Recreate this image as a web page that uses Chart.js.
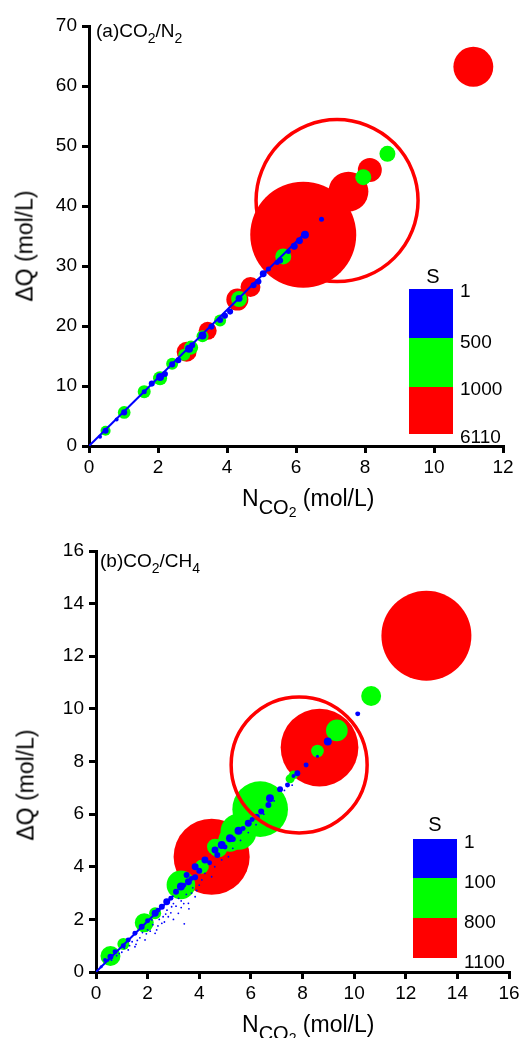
<!DOCTYPE html>
<html><head><meta charset="utf-8">
<script src="https://cdn.jsdelivr.net/npm/chart.js@4/dist/chart.umd.min.js"></script>
<style>
html,body{margin:0;padding:0;background:#fff;}
body{width:527px;height:1038px;position:relative;overflow:hidden;font-family:"Liberation Sans",Arial,sans-serif;color:#000;}
canvas{position:absolute;left:0;}
.t{position:absolute;white-space:nowrap;line-height:1;}
.s1{font-size:14px;position:relative;top:6px;}
.xs{font-size:20px;position:relative;top:8px;}
.xs2{font-size:14px;position:relative;top:3px;}
.yt{transform:translate(-50%,-50%) rotate(-90deg);}
.bar{position:absolute;}
</style></head>
<body>
<canvas id="ca" width="527" height="500" style="top:0;width:527px;height:500px"></canvas>
<canvas id="cb" width="527" height="533" style="top:505px;width:527px;height:533px"></canvas>

<div class="t" style="left:96px;top:21px;font-size:19px">(a)CO<span class="s1">2</span>/N<span class="s1">2</span></div>
<div class="t yt" style="left:25px;top:246px;font-size:23px">ΔQ (mol/L)</div>
<div class="t" style="left:242px;top:487px;font-size:23px">N<span class="xs">CO<span class="xs2">2</span></span> (mol/L)</div>

<div class="t" style="left:100px;top:551px;font-size:19px">(b)CO<span class="s1">2</span>/CH<span class="s1">4</span></div>
<div class="t yt" style="left:26px;top:785px;font-size:23px">ΔQ (mol/L)</div>
<div class="t" style="left:242px;top:1013px;font-size:23px">N<span class="xs">CO<span class="xs2">2</span></span> (mol/L)</div>

<div id="lega"></div>
<div id="legb"></div>

<script>
// ---------- (a) CO2/N2 ----------
const aXTicks = [0, 2, 4, 6, 8, 10, 12];
const aYTicks = [0, 10, 20, 30, 40, 50, 60, 70];
const aX = [0.32,0.48,0.8,1.02,1.6,1.82,2.06,2.2,2.41,2.59,2.9,2.99,3.29,3.55,3.8,3.94,4.09,4.35,4.77,4.91,5.05,5.2,5.45,5.54,5.78,5.95,6.1,6.26,6.74,
  0.48,1.02,1.6,2.06,2.41,2.76,2.96,3.29,3.8,4.35,5.63,7.95,8.65,
  2.83,3.44,4.3,4.68,6.21,7.52,8.14,11.14];
const aY = [1.55,2.55,4.4,5.6,9.05,10.4,11.5,12.0,13.6,14.3,16.2,16.8,18.4,19.9,21.0,21.7,22.4,24.6,26.8,27.4,28.7,29.5,30.6,30.9,32.4,33.3,34.2,35.2,37.8,
  2.55,5.6,9.05,11.3,13.7,15.2,16.4,18.3,20.9,24.5,31.6,44.8,48.7,
  15.7,19.2,24.4,26.5,35.2,42.4,46.0,63.2];
const aS = [230,350,230,350,290,350,460,350,350,350,460,350,460,350,350,350,350,400,350,350,400,290,290,350,290,400,400,460,290,
  580,730,750,810,690,690,810,690,690,920,920,920,920,
  1150,1040,1270,1150,6110,2300,1380,2300];
const aLineX = [0, 6.3];
const aLineY = [0, 35.7];
const aRingX = [7.19];
const aRingY = [40.9];
const aLegend = ['1', '500', '1000', '6110'];
const aThresh = [500, 1000];
const aSmax = 6110;

// ---------- (b) CO2/CH4 ----------
const bXTicks = [0, 2, 4, 6, 8, 10, 12, 14, 16];
const bYTicks = [0, 2, 4, 6, 8, 10, 12, 14, 16];
const bX = [12.8,8.66,4.48,
  10.66,9.33,8.58,7.65,7.52,6.36,5.52,5.2,4.74,4.61,4.1,4.07,3.29,2.29,1.87,1.06,0.56,
  10.14,8.98,8.58,8.14,7.8,7.65,7.42,7.13,6.74,6.68,6.23,5.9,5.52,5.19,4.87,4.61,4.22,3.84,3.51,3.58,3.84,3.29,2.74,2.55,2.29,1.77,1.51,1.25,1.06,0.74,0.56,0.35,
  3.1,3.4,3.7,4.0,4.4,4.7,5.0,5.3,5.7,6.05,6.4,2.0,2.4,2.9,0.2,0.45,
  0.9,1.25,1.51,1.6,1.9,2.0,2.16,2.29,2.4,2.55,2.7,2.8,2.93,3.0,3.19,3.42,3.3,3.58,3.7,3.84,4.0,4.22,4.48,4.6,4.87,5.13,5.3,5.6,5.9,6.2,6.5,6.9,7.3,7.6,
  0.6,0.8,1.0,1.1,1.3,1.4,1.7,1.8,2.1,2.2,2.45,2.6,2.65,2.9,3.1,3.2,3.4,3.5,3.6,3.75,3.9,4.1,2.35,1.95,1.55,3.0,3.3,2.75];
const bY = [12.78,8.53,4.38,
  10.49,9.18,8.4,7.49,7.34,6.19,5.33,5.02,4.7,4.76,4.0,4.07,3.31,2.23,1.87,1.06,0.61,
  9.81,8.76,8.2,7.87,7.55,7.45,7.11,6.95,6.6,6.35,5.9,5.65,5.37,5.08,4.83,4.64,4.26,4.0,3.69,3.43,3.6,3.25,2.67,2.48,2.23,1.72,1.47,1.22,1.0,0.77,0.58,0.46,
  3.05,3.3,3.55,3.85,4.15,4.45,4.75,5.05,5.45,5.8,6.1,1.95,2.35,2.8,0.2,0.45,
  0.7,0.84,0.96,1.2,1.22,1.6,1.98,1.47,1.75,1.85,2.2,2.1,2.48,2.0,2.23,1.83,2.7,2.61,3.0,2.86,3.3,3.75,3.62,4.0,4.26,4.38,4.7,5.0,5.3,5.6,6.0,6.5,6.9,7.1,
  0.45,0.62,0.75,0.9,1.0,1.15,1.3,1.5,1.55,1.8,2.0,2.1,1.9,2.25,2.5,2.8,2.6,2.95,2.4,3.2,3.1,3.5,1.6,1.45,1.05,2.6,2.45,2.35];
const bS = [1100,950,930,
  244,265,155,110,110,680,440,290,220,195,170,122,350,147,232,147,244,
  61,97,37,61,73,49,61,73,97,73,73,85,97,97,97,85,85,85,73,85,73,97,85,73,85,73,61,61,61,61,73,49,
  73,61,61,73,61,73,61,73,61,61,73,61,61,61,37,37,
  22,22,22,22,22,22,22,22,22,22,22,22,22,22,22,22,22,22,22,22,22,22,22,22,22,22,22,22,22,22,22,22,22,22,
  22,22,22,22,22,22,22,22,22,22,22,22,22,22,22,22,22,22,22,22,22,22,22,22,22,22,22,22];
const bLineX = [0, 3.0];
const bLineY = [0, 2.9];
const bRingX = [7.87];
const bRingY = [7.87];
const bLegend = ['1', '100', '800', '1100'];
const bThresh = [100, 800];
const bSmax = 1100;

// ---------- styling ----------
const BLUE = '#0000ff', GREEN = '#00ff00', RED = '#ff0000';
const FONT = '"Liberation Sans", Arial, sans-serif';

function split(X, Y, S, thresh, smax, rmax) {
  const groups = [[], [], []];
  for (let i = 0; i < X.length; i++) {
    const g = S[i] < thresh[0] ? 0 : (S[i] < thresh[1] ? 1 : 2);
    groups[g].push({ x: X[i], y: Y[i], r: S[i] / smax * rmax });
  }
  return groups;
}

function axis(min, max, ticks, sizeKey, size, pad) {
  return {
    type: 'linear', min: min, max: max,
    afterBuildTicks: s => { s.ticks = ticks.map(v => ({ value: v })); },
    afterFit: s => { s[sizeKey] = size; },
    ticks: { color: '#000', font: { family: FONT, size: 19 }, padding: pad },
    grid: { display: true, drawOnChartArea: false, drawTicks: true, tickLength: 7, color: '#000', lineWidth: 3 },
    border: { display: true, color: '#000', width: 3 }
  };
}

function make(id, g, lineX, lineY, ringX, ringY, ringR, ringOrder, xr, yr, pad, yW, xH) {
  const ds = [
    { type: 'line', data: lineX.map((v, i) => ({ x: v, y: lineY[i] })), borderColor: BLUE, borderWidth: 2, pointRadius: 0, order: 1 },
    { data: g[0], backgroundColor: BLUE, borderWidth: 0, order: 2 },
    { data: g[1], backgroundColor: GREEN, borderWidth: 0, order: 3 },
    { data: g[2], backgroundColor: RED, borderWidth: 0, order: 4 },
    { data: ringX.map((v, i) => ({ x: v, y: ringY[i] })), radius: ringR, backgroundColor: 'rgba(0,0,0,0)', borderColor: RED, borderWidth: 3.5, order: ringOrder }
  ];
  return new Chart(document.getElementById(id), {
    type: 'bubble',
    data: { datasets: ds },
    options: {
      responsive: false, animation: false, events: [],
      layout: { padding: pad, autoPadding: false },
      plugins: { legend: { display: false }, tooltip: { enabled: false } },
      scales: {
        x: axis(xr[0], xr[1], xr[2], 'height', xH, 3),
        y: axis(yr[0], yr[1], yr[2], 'width', yW, 5)
      }
    }
  });
}

make('ca', split(aX, aY, aS, aThresh, aSmax, 53), aLineX, aLineY, aRingX, aRingY, 81, 5,
  [0, 12, aXTicks], [0, 70, aYTicks], { left: 0, right: 24, top: 26, bottom: 0 }, 89, 54);
make('cb', split(bX, bY, bS, bThresh, bSmax, 45), bLineX, bLineY, bRingX, bRingY, 68, 0,
  [0, 16, bXTicks], [0, 16, bYTicks], { left: 0, right: 18, top: 46, bottom: 0 }, 96, 66);

// colour-bar legends
function legend(el, labels, bx, bounds, labelX, labelY, sX, sY) {
  const cols = [BLUE, GREEN, RED];
  let h = '';
  for (let i = 0; i < 3; i++) {
    h += '<div class="bar" style="left:' + bx[0] + 'px;width:' + (bx[1] - bx[0]) + 'px;top:' + bounds[i] + 'px;height:' + (bounds[i + 1] - bounds[i]) + 'px;background:' + cols[i] + '"></div>';
  }
  h += '<div class="t" style="left:' + sX + 'px;top:' + (sY - 10) + 'px;font-size:20px;transform:translateX(-50%)">S</div>';
  labels.forEach((t, i) => {
    h += '<div class="t" style="left:' + labelX + 'px;top:' + (labelY[i] - 9.3) + 'px;font-size:19px">' + t + '</div>';
  });
  document.getElementById(el).innerHTML = h;
}
legend('lega', aLegend, [409, 453], [289, 338, 387, 434], 460, [290, 341, 388, 436], 433, 276);
legend('legb', bLegend, [413, 457], [839, 878, 918, 958], 464, [841, 881, 921, 961], 435, 824);
</script>
</body></html>
